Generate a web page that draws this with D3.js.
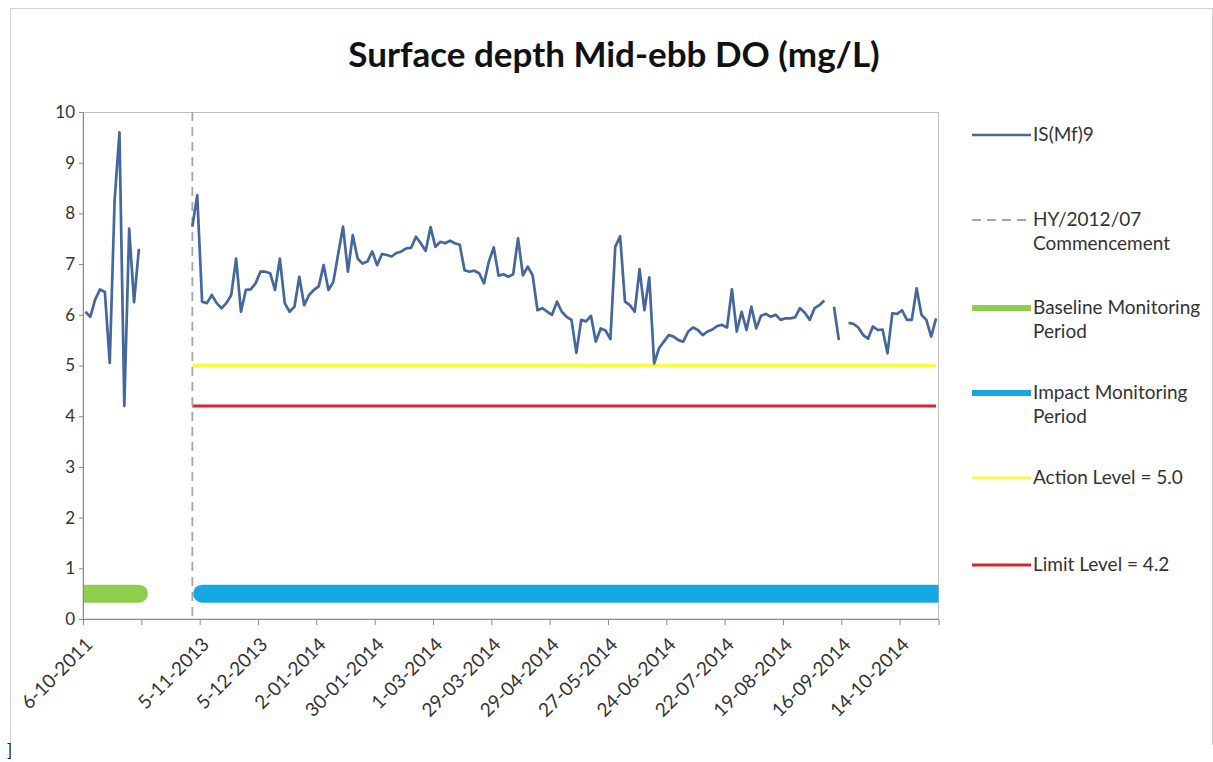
<!DOCTYPE html>
<html><head><meta charset="utf-8">
<script src="https://cdn.jsdelivr.net/npm/d3@7"></script>
<style>
body{margin:0;background:#fff}
svg{display:block}
text{font-family:Lato,"Open Sans",sans-serif}
</style>
</head><body>
<svg id="c" width="1213" height="762"></svg>
<script>
// ---------- data ----------
const tickLabels = ["6-10-2011","","5-11-2013","5-12-2013","2-01-2014","30-01-2014","1-03-2014","29-03-2014","29-04-2014","27-05-2014","24-06-2014","22-07-2014","19-08-2014","16-09-2014","14-10-2014"];
const tickEvery = 12;
const categoryCount = 176;
const yTicks = [0,1,2,3,4,5,6,7,8,9,10];

// IS(Mf)9 DO values per category (null = no sample)
const baselineValues = [6.06,5.96,6.30,6.50,6.45,5.05,8.25,9.60,4.20,7.70,6.25,7.30];
const gapValues = [null,null,null,null,null,null,null,null,null,null];
const impactValues = [
  7.74,8.36,6.26,6.23,6.39,6.23,6.13,6.23,6.39,7.11,6.06,6.49,
  6.50,6.62,6.85,6.85,6.82,6.49,7.11,6.23,6.06,6.16,6.75,6.19,
  6.39,6.49,6.56,6.98,6.49,6.65,7.20,7.74,6.85,7.57,7.11,7.01,
  7.05,7.25,6.98,7.20,7.18,7.15,7.22,7.25,7.31,7.32,7.54,7.41,
  7.26,7.73,7.34,7.44,7.41,7.46,7.41,7.38,6.88,6.85,6.87,6.82,
  6.62,7.05,7.33,6.77,6.80,6.75,6.80,7.51,6.78,6.95,6.78,6.09,
  6.13,6.06,6.00,6.26,6.06,5.96,5.90,5.25,5.90,5.87,5.98,5.47,
  5.73,5.69,5.52,7.34,7.55,6.26,6.19,6.06,6.90,6.09,6.74,5.04,
  5.34,5.47,5.60,5.57,5.50,5.47,5.67,5.75,5.70,5.60,5.67,5.71,
  5.78,5.80,5.75,6.50,5.67,6.06,5.70,6.16,5.73,5.98,6.02,5.96,
  6.00,5.90,5.93,5.93,5.95,6.13,6.04,5.90,6.13,6.19,6.28,null,
  6.16,5.50,null,5.84,5.82,5.75,5.60,5.53,5.77,5.70,5.71,5.24,
  6.03,6.02,6.09,5.90,5.90,6.52,6.00,5.90,5.57,5.93
];
const doValues = baselineValues.concat(gapValues, impactValues);

const commencementIndex = 22;
const baselinePeriod = [0, 11];
const impactPeriod = [24, 175];
const periodBarValue = 0.5;
const actionLevel = 5.0;
const limitLevel = 4.2;
const levelRange = [22, 175];

const legendItems = [
  {label:["IS(Mf)9"], color:"#44679e", width:2.5, dash:null},
  {label:["HY/2012/07","Commencement"], color:"#a6a6a6", width:1.8, dash:"9,6"},
  {label:["Baseline Monitoring","Period"], color:"#8fce4c", width:6, dash:null},
  {label:["Impact Monitoring","Period"], color:"#14a9e3", width:6, dash:null},
  {label:["Action Level = 5.0"], color:"#fafa3c", width:3, dash:null},
  {label:["Limit Level = 4.2"], color:"#e0222c", width:3, dash:null}
];

// ---------- layout ----------
const svg = d3.select("#c");
const L = 83, R = 938.5, T = 112, B = 619;
const x = d3.scaleLinear().domain([0, categoryCount]).range([L, R]);
const cx = i => x(i + 0.5);
const y = d3.scaleLinear().domain([0, 10]).range([B, T]);

// outer frame
svg.append("path").attr("d","M10.5,745 V8.5 H1212.5 V745")
  .attr("fill","none").attr("stroke","#d0d0d0").attr("stroke-width",1);
svg.append("text").attr("x",7).attr("y",757).attr("font-size",17).attr("fill","#222").text("]");

// title
svg.append("text").attr("x",614).attr("y",67).attr("text-anchor","middle")
  .attr("font-size",35).attr("font-weight","bold").attr("fill","#111")
  .text("Surface depth Mid-ebb DO (mg/L)");

// clip
svg.append("clipPath").attr("id","pc").append("rect")
  .attr("x",L).attr("y",T).attr("width",R-L).attr("height",B-T);

// plot border
svg.append("rect").attr("x",L).attr("y",T+0.5).attr("width",R-L).attr("height",B-T-0.5)
  .attr("fill","none").attr("stroke","#bfbfbf").attr("stroke-width",1);

const g = svg.append("g").attr("clip-path","url(#pc)");

// period bars
const hline = d3.line().x(d => cx(d[0])).y(d => y(d[1]));
g.append("path").datum([[baselinePeriod[0],periodBarValue],[baselinePeriod[1],periodBarValue]])
  .attr("d",hline).attr("stroke","#8fce4c").attr("stroke-width",18).attr("stroke-linecap","round").attr("fill","none");
g.append("path").datum([[impactPeriod[0],periodBarValue],[impactPeriod[1],periodBarValue]])
  .attr("d",hline).attr("stroke","#14a9e3").attr("stroke-width",18).attr("stroke-linecap","round").attr("fill","none");

// levels
g.append("path").datum([[levelRange[0],actionLevel],[levelRange[1],actionLevel]])
  .attr("d",hline).attr("stroke","#fafa3c").attr("stroke-width",3).attr("fill","none");
g.append("path").datum([[levelRange[0],limitLevel],[levelRange[1],limitLevel]])
  .attr("d",hline).attr("stroke","#e0222c").attr("stroke-width",3).attr("fill","none");

// commencement dashed line
g.append("line").attr("x1",cx(commencementIndex)).attr("x2",cx(commencementIndex))
  .attr("y1",y(10)).attr("y2",y(0))
  .attr("stroke","#a6a6a6").attr("stroke-width",1.8).attr("stroke-dasharray","9,6");

// data line
const line = d3.line().defined(d => d != null).x((d,i) => cx(i)).y(d => y(d));
g.append("path").datum(doValues).attr("d",line)
  .attr("fill","none").attr("stroke","#44679e").attr("stroke-width",2.7).attr("stroke-linejoin","round");

// y axis
const ya = svg.append("g").attr("transform",`translate(${L},0)`)
  .call(d3.axisLeft(y).tickValues(yTicks).tickSize(4).tickPadding(4).tickFormat(d3.format("d")));
ya.select(".domain").attr("stroke","#8c8c8c");
ya.selectAll(".tick line").attr("stroke","#8c8c8c");
ya.selectAll("text").attr("font-size",17).attr("fill","#333").attr("font-family","Lato");

// x axis
const tickIdx = tickLabels.map((d,i) => i*tickEvery);
const xa = svg.append("g").attr("transform",`translate(0,${B})`)
  .call(d3.axisBottom(x).tickValues(tickIdx).tickSize(6).tickFormat(""));
xa.select(".domain").attr("stroke","#8c8c8c");
xa.selectAll(".tick line").attr("stroke","#8c8c8c");
svg.append("g").selectAll("text").data(tickLabels).join("text")
  .attr("transform",(d,i) => `translate(${x(tickIdx[i]) + 6},${B + 22}) rotate(-45)`)
  .attr("text-anchor","end").attr("dy","0.35em").attr("font-size",19).attr("fill","#333")
  .text(d => d);

// legend
const legendY = [135, 220, 308, 393, 478, 565];
const lg = svg.append("g");
legendItems.forEach((it, k) => {
  const yy = legendY[k];
  lg.append("line").attr("x1",972).attr("x2",1031).attr("y1",yy).attr("y2",yy)
    .attr("stroke",it.color).attr("stroke-width",it.width)
    .attr("stroke-dasharray",it.dash);
  it.label.forEach((t, j) => {
    lg.append("text").attr("x",1033).attr("y",yy + 6 + j*24)
      .attr("font-size",19).attr("fill","#333").text(t);
  });
});
</script>
</body></html>
